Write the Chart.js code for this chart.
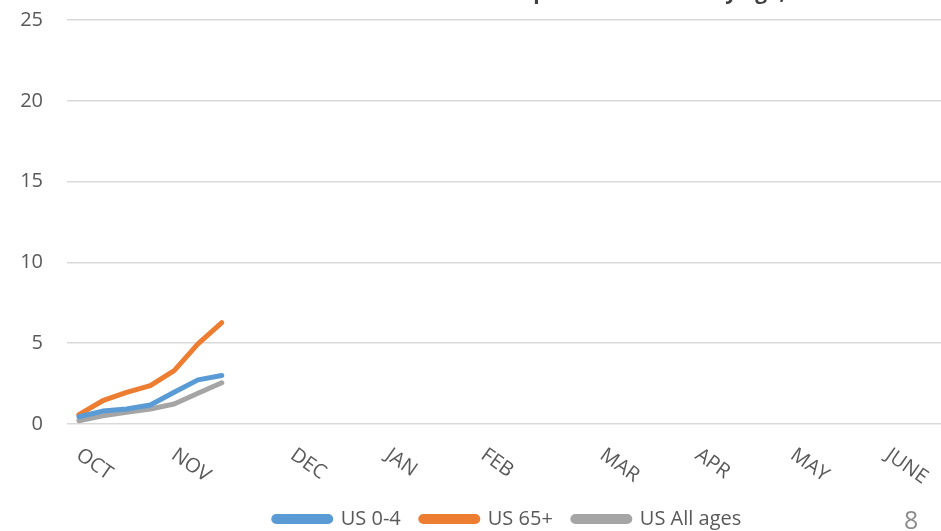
<!DOCTYPE html>
<html>
<head>
<meta charset="utf-8">
<script src="https://cdn.jsdelivr.net/npm/chart.js@4.4.1/dist/chart.umd.min.js"></script>
<style>
  html, body { margin: 0; padding: 0; overflow: hidden; background: #fff; }
  #wrap { position: relative; width: 950px; height: 531px; }
  #slide-num { position: absolute; left: 904px; top: 502px; font: 25px "Open Sans", sans-serif; color: #8c8c8c; }
</style>
</head>
<body>
<div id="wrap">
  <canvas id="chart-lines" width="950" height="531"></canvas>
  <div id="slide-num">8</div>
</div>
<script>
// weekly categories, month name on the first week shown for that month
var weeks = ["OCT", "", "", "", "NOV", "", "", "", "", "DEC", "", "", "", "JAN", "", "", "", "FEB", "", "", "", "",
  "MAR", "", "", "", "APR", "", "", "", "MAY", "", "", "", "JUNE", "", ""];
var us04 = [0.45, 0.8, 0.93, 1.18, 1.96, 2.73, 3.0];
var us65 = [0.58, 1.44, 1.96, 2.37, 3.3, 4.96, 6.27];
var usAll = [0.2, 0.51, 0.72, 0.93, 1.24, 1.9, 2.55];
var yTicks = [0, 5, 10, 15, 20, 25];
var titleText = "Cumulative Hospitalization Rate by age, 2022-23";

// month labels slanted downwards like the original
var monthLabels = {
  id: "monthLabels",
  afterDraw: function (chart) {
    var ctx = chart.ctx;
    var xs = chart.scales.x;
    ctx.save();
    ctx.font = '20px "Open Sans"';
    ctx.fillStyle = "#595959";
    ctx.textAlign = "left";
    ctx.textBaseline = "top";
    chart.data.labels.forEach(function (lab, i) {
      if (!lab) return;
      ctx.save();
      ctx.translate(xs.getPixelForValue(i) + 5, chart.chartArea.bottom + 21);
      ctx.rotate(35 * Math.PI / 180);
      ctx.fillText(lab, 0, 0);
      ctx.restore();
    });
    ctx.restore();
  },
};

// title sits above the visible crop, only descenders show
var cutTitle = {
  id: "cutTitle",
  afterDraw: function (chart) {
    var ctx = chart.ctx;
    ctx.save();
    ctx.font = 'bold 21px "Open Sans"';
    ctx.fillStyle = "#404040";
    ctx.textBaseline = "alphabetic";
    var pre = ctx.measureText("Cumulative Hos").width;
    var pw = ctx.measureText("p").width;
    ctx.fillText(titleText, 540 - pre - pw / 2, -1);
    ctx.restore();
  },
};

var ctx = document.getElementById("chart-lines").getContext("2d");

new Chart(ctx, {
  type: "line",
  data: {
    labels: weeks,
    datasets: [
      { label: "US 0-4", data: us04, borderColor: "#5b9bd5", backgroundColor: "#5b9bd5" },
      { label: "US 65+", data: us65, borderColor: "#ed7d31", backgroundColor: "#ed7d31" },
      { label: "US All ages", data: usAll, borderColor: "#a5a5a5", backgroundColor: "#a5a5a5" },
    ],
  },
  options: {
    responsive: false,
    animation: false,
    layout: { padding: { top: 20, right: 2, left: 0, bottom: -8 } },
    elements: {
      line: { borderWidth: 5, tension: 0, borderCapStyle: "round", borderJoinStyle: "round" },
      point: { radius: 0 },
    },
    plugins: {
      tooltip: { enabled: false },
      legend: {
        position: "bottom",
        fullSize: false,
        labels: {
          boxWidth: 57,
          boxHeight: 5,
          useBorderRadius: true,
          borderRadius: 2.5,
          padding: 20,
          color: "#595959",
          font: { size: 20, family: "Open Sans" },
        },
      },
    },
    scales: {
      x: {
        offset: true,
        grid: { display: false },
        border: { display: false },
        ticks: { display: false },
        afterFit: function (scale) { scale.height = 65; },
      },
      y: {
        min: 0,
        max: 25,
        afterBuildTicks: function (scale) {
          scale.ticks = yTicks.map(function (v) { return { value: v }; });
        },
        grid: { color: "#d9d9d9", lineWidth: 1.5, drawTicks: false },
        border: { display: false },
        ticks: {
          padding: 24,
          color: "#595959",
          font: { size: 20, family: "Open Sans" },
        },
        afterFit: function (scale) {
          scale.width = 67;
          scale.paddingTop = 0;
          scale.paddingBottom = 0;
        },
      },
    },
  },
  plugins: [monthLabels, cutTitle],
});
</script>
</body>
</html>
